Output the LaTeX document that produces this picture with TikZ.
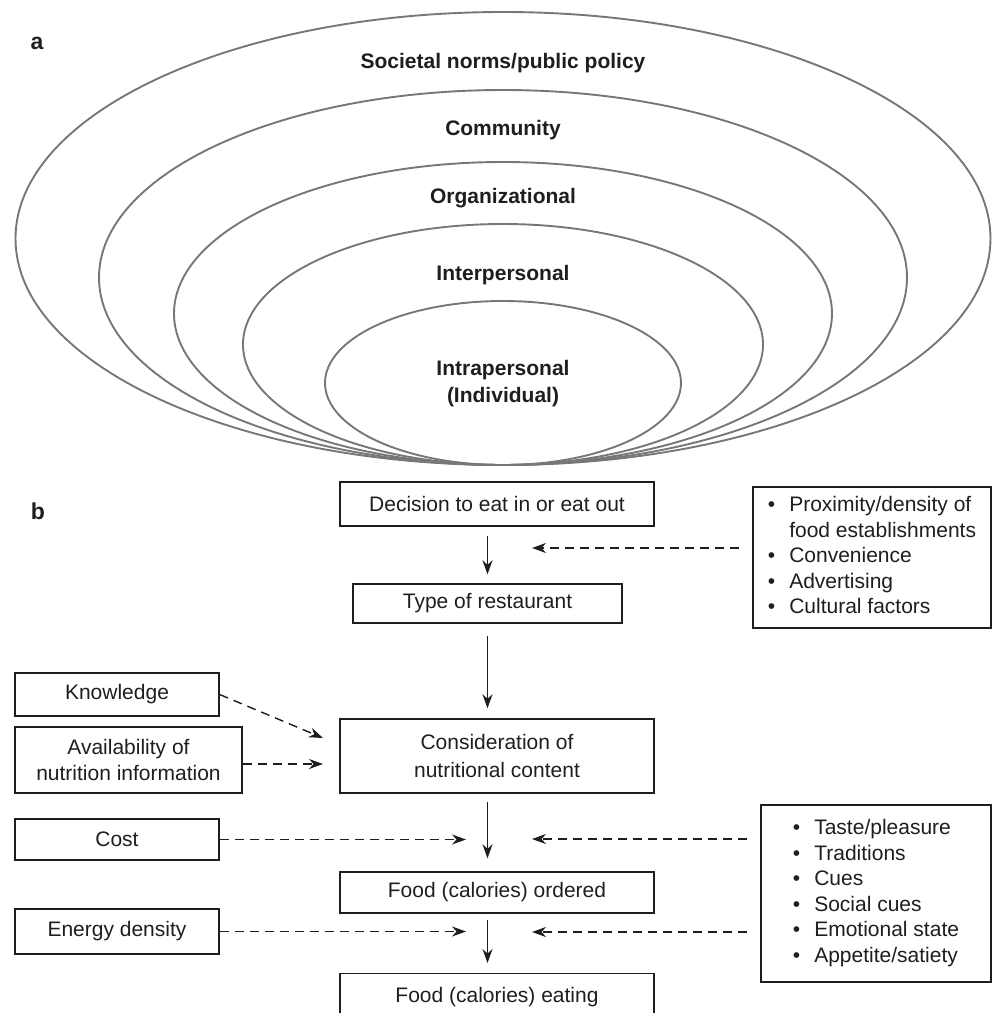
\documentclass[tikz,border=0pt]{standalone}
\usepackage{fontspec}
\setmainfont{Liberation Sans}
\usetikzlibrary{calc}
\usetikzlibrary{arrows.meta}
\definecolor{ringgray}{HTML}{777777}
\definecolor{ink}{HTML}{1E1E1E}

\begin{document}
\begin{tikzpicture}[x=1pt, y=-1pt, font=\fontsize{21}{25.5}\selectfont, text=ink,
  level/.style={draw=ringgray, line width=1.9pt},
  title/.style={font=\fontsize{21}{27}\selectfont\bfseries, align=center},
  panel/.style={font=\fontsize{23}{27}\selectfont\bfseries},
  box/.style={draw=ink, line width=1.4pt, minimum width=#1, align=center, inner sep=0pt},
  flow/.style={draw=ink, line width=1.4pt, -{Stealth[length=14pt, width=10pt, inset=4.5pt]}},
  infl/.style={flow, dash pattern=on 9pt off 6pt}]
\useasboundingbox (0,0) rectangle (992,1013);
\node[panel] (pa) at (37,43) {a};
\node[panel] (pb) at (38,511) {b};
\foreach \rx/\ry in {487.5/226.5, 404/187.5, 329/151.5, 260/120.5, 178/82}
 \draw[level] (503,{465-\ry}) ellipse [x radius=\rx, y radius=\ry];
\node[title] (societal) at (503,63) {Societal norms/public policy};
\node[title] (community) at (503,130) {Community};
\node[title] (organiz) at (503,198) {Organizational};
\node[title] (interp) at (503,275) {Interpersonal};
\node[title] (intrap) at (503,383.5) {Intrapersonal\\(Individual)};

\node[box=314, minimum height=44] (decide) at (497,504) {Decision to eat in or eat out};
\node[box=269, minimum height=39] (rtype) at (487.5,603.5) {Type of restaurant};
\node[box=314, minimum height=74] (consider) at (497,756) {Consideration of\\[2pt]nutritional content};
\node[box=314, minimum height=41] (ordered) at (497,892.5) {Food (calories) ordered};
\node[box=314, text height=29pt, text depth=25pt, anchor=north] (eating) at (497,973) {Food (calories) eating};

\node[box=204, minimum height=43] (know) at (117,694.5) {Knowledge};
\node[box=227, minimum height=66] (avail) at (128.5,760) {Availability of\\nutrition information};
\node[box=204, minimum height=41] (cost) at (117,839.5) {Cost};
\node[box=204, minimum height=45] (energy) at (117,931.5) {Energy density};

\node[box=238, minimum height=141] (access) at (872,557.5) {\begin{tabular}{@{}l@{\hspace{14pt}}l@{}}
 \textbullet & Proximity/density of\\
  & food establishments\\
 \textbullet & Convenience\\
 \textbullet & Advertising\\
 \textbullet & Cultural factors
\end{tabular}};
\node[box=230, minimum height=177] (habits) at (876,893.5) {\begin{tabular}{@{}l@{\hspace{14pt}}l@{}}
 \textbullet & Taste/pleasure\\
 \textbullet & Traditions\\
 \textbullet & Cues\\
 \textbullet & Social cues\\
 \textbullet & Emotional state\\
 \textbullet & Appetite/satiety
\end{tabular}};

\coordinate (kin) at (323,738);
\coordinate (ain) at (323,764);
\coordinate (cin) at (466,839.5);
\coordinate (ein) at (466,931.5);
\coordinate (pin) at (532,548);
\coordinate (tin) at (532,839);
\coordinate (hin) at (532,932);

\draw[flow, shorten <=9pt, shorten >=9pt] (rtype.center |- decide.south) -- (rtype.north);
\draw[flow, shorten <=12pt, shorten >=10pt] (rtype.south) -- (rtype |- consider.north);
\draw[flow, shorten <=8pt, shorten >=13pt] (rtype |- consider.south) -- (rtype |- ordered.north);
\draw[flow, shorten <=6pt, shorten >=10pt] (rtype |- ordered.south) -- (rtype |- eating.north);

\draw[infl] (know.east) -- (kin);
\draw[infl] (avail.east |- ain) -- (ain);
\draw[infl] (cost.east) -- (cin);
\draw[infl] (energy.east) -- (ein);
\draw[infl, shorten <=13pt] (access.west |- pin) -- (pin);
\draw[infl, shorten <=13pt] (habits.west |- tin) -- (tin);
\draw[infl, shorten <=13pt] (habits.west |- hin) -- (hin);
\end{tikzpicture}
\end{document}
